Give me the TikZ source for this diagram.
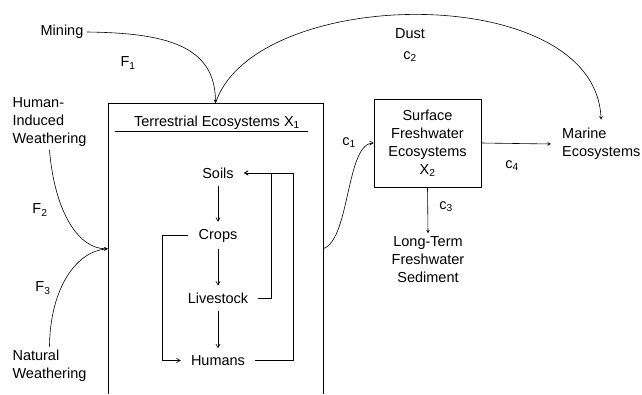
\documentclass[tikz,border=0pt]{standalone}
\usepackage{fontspec}
\setmainfont{Liberation Sans}
\usetikzlibrary{arrows}
\tikzstyle{box} = [rectangle, draw=black, line width=0.6pt, text centered, align=center]
\tikzstyle{item} = [text centered, inner xsep=10pt, inner ysep=7pt]
\tikzstyle{tag} = [inner sep=1pt]
\tikzstyle{arrow} = [line width=0.6pt,->,>=stealth]
\tikzstyle{inarrow} = [line width=0.6pt,->,>=angle 60]

\begin{document}
\begin{tikzpicture}[x=1pt, y=-1pt, node distance=62.5pt, font=\fontsize{14.5}{18}\selectfont]
\useasboundingbox (0,0) rectangle (642,394);

%sources
\node (mining) at (62,32) {Mining};
\node (human) [align=left, anchor=west] at (9,122) {Human-\\Induced\\Weathering};
\node (natural) [align=left, anchor=west] at (9,366) {Natural\\Weathering};

%terrestrial box
\node (terr) [minimum width=215pt, minimum height=291pt, anchor=north] at (215.5,103) {};
\draw [line width=0.6pt] (terr.south west) -- (terr.north west) -- (terr.north east) -- (terr.south east);
\node (title) at (217,123) {Terrestrial Ecosystems X\textsubscript{1}};
\draw [line width=0.6pt] (115,131) -- (308,131);

%inside
\node (soils) [item] at (218,173) {Soils};
\node (crops) [item, below of=soils] {Crops};
\node (livestock) [item, below of=crops] {Livestock};
\node (humans) [item, below of=livestock] {Humans};

%sinks
\node (fresh) [box, minimum width=107pt, minimum height=88pt] at (427.5,143) {Surface\\Freshwater\\Ecosystems\\X\textsubscript{2}};
\node (marine) [align=left, anchor=west, inner xsep=11pt] at (551,144) {Marine\\Ecosystems};
\node (sed) [align=center] at (428,260) {Long-Term\\Freshwater\\Sediment};

%labels
\node (f1) [tag] at (128,63) {F\textsubscript{1}};
\node (f2) [tag] at (40,210) {F\textsubscript{2}};
\node (f3) [tag] at (43,288) {F\textsubscript{3}};
\node (dust) [tag] at (410,34) {Dust};
\node (c2) [tag] at (410,57) {c\textsubscript{2}};
\node (c1) [tag] at (349,143) {c\textsubscript{1}};
\node (c3) [tag] at (446,207) {c\textsubscript{3}};
\node (c4) [tag] at (512,166) {c\textsubscript{4}};

%arrows
\draw [arrow] (mining.east) .. controls (165,33) and (215,45) .. (terr.north);
\draw [arrow, shorten >=5pt] (terr.north) .. controls (255,-15) and (595,-20) .. (marine.north);
\draw [arrow] (human.south) .. controls (55,215) and (80,249) .. (terr.west);
\draw [arrow] (natural.north) .. controls (50,290) and (75,252) .. (terr.west);
\draw [inarrow] (terr.east) .. controls (350,240) and (346,143) .. (fresh.west);
\draw [arrow] (fresh.east) -- (marine.west);
\draw [arrow] (fresh.south) -- (sed.north);

%inner arrows
\draw [inarrow] (soils) -- (crops);
\draw [inarrow] (crops) -- (livestock);
\draw [inarrow] (livestock) -- (humans);
\draw [inarrow] (livestock.east) -- ++(13,0) |- (soils.east);
\draw [inarrow] (humans.east) -- ++(38,0) |- (soils.east);
\draw [inarrow] (crops.west) -- ++(-26,0) |- (humans.west);

\end{tikzpicture}
\end{document}
